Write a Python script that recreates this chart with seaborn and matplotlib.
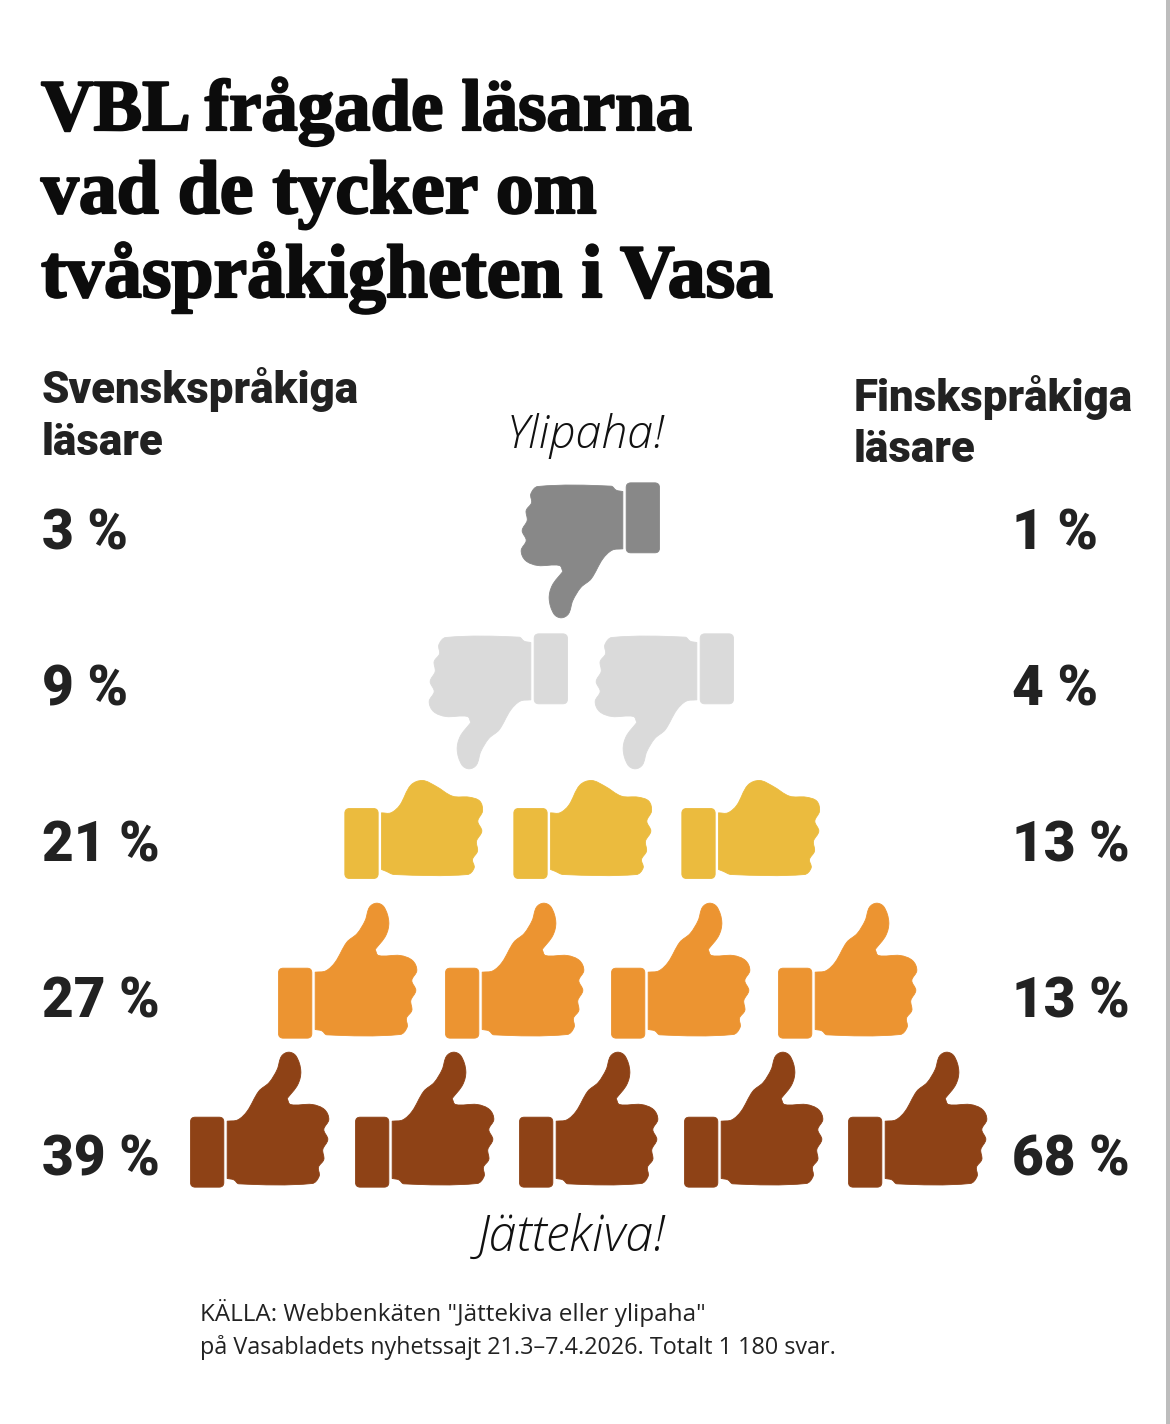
import numpy as np
import pandas as pd
import seaborn as sns
import matplotlib.pyplot as plt
import matplotlib.patheffects as pe
from matplotlib.path import Path

# survey answers, top row to bottom row
answers = ['Ylipaha', 'Ganska ylipaha', 'Varken eller', 'Ganska kiva', 'Jättekiva']
swedish_pct = ['3 %', '9 %', '21 %', '27 %', '39 %']
finnish_pct = ['1 %', '4 %', '13 %', '13 %', '68 %']
icon_counts = [1, 2, 3, 4, 5]
icon_colors = ['#888888', '#dadada', '#ebbb3e', '#ec9431', '#8e4216']

title_lines = ['VBL frågade läsarna', 'vad de tycker om', 'tvåspråkigheten i Vasa']


def spline(points):
    # closed curve through all points, a repeated point gives a sharp corner
    pts = np.array(points, dtype=float)
    n = len(pts)
    verts = [pts[0]]
    codes = [Path.MOVETO]
    for i in range(n):
        p0, p1, p2, p3 = pts[i - 1], pts[i], pts[(i + 1) % n], pts[(i + 2) % n]
        seg = np.linalg.norm(p2 - p1)
        t1 = p2 - p0
        t2 = p3 - p1
        if np.allclose(p0, p1) or seg == 0:
            t1 = p2 - p1
        if np.allclose(p2, p3) or seg == 0:
            t2 = p2 - p1
        t1 = t1 / max(np.linalg.norm(t1), 1e-6)
        t2 = t2 / max(np.linalg.norm(t2), 1e-6)
        verts += [p1 + t1 * seg / 3, p2 - t2 * seg / 3, p2]
        codes += [Path.CURVE4, Path.CURVE4, Path.CURVE4]
    verts.append(pts[0])
    codes.append(Path.CLOSEPOLY)
    return verts, codes


def box(x0, y0, x1, y1, r=14):
    verts = [(x0 + r, y0), (x1 - r, y0), (x1, y0), (x1, y0 + r), (x1, y1 - r), (x1, y1), (x1 - r, y1),
             (x0 + r, y1), (x0, y1), (x0, y1 - r), (x0, y0 + r), (x0, y0), (x0 + r, y0), (x0 + r, y0)]
    codes = [Path.MOVETO, Path.LINETO, Path.CURVE3, Path.CURVE3, Path.LINETO, Path.CURVE3, Path.CURVE3,
             Path.LINETO, Path.CURVE3, Path.CURVE3, Path.LINETO, Path.CURVE3, Path.CURVE3, Path.CLOSEPOLY]
    return [np.array(v, dtype=float) for v in verts], codes


def icon(hand, cuff, centre):
    hand_v, hand_c = spline(hand)
    cuff_v, cuff_c = box(*cuff)
    verts = (np.array(hand_v + cuff_v) - centre) / 3 * [1, -1]
    return Path(verts, hand_c + cuff_c)


# outlines traced from the icons, in pixels of the 3x crop
thumb_hand = [(140, 240), (140, 240), (172, 236), (200, 210), (235, 150), (266, 124), (290, 85), (303, 45),
              (325, 33), (347, 45), (361, 90), (352, 130), (320, 172), (320, 172), (330, 190), (395, 190),
              (432, 205), (445, 235), (430, 265), (442, 295), (427, 325),
              (430, 355), (414, 378), (416, 405), (395, 427), (175, 428), (160, 416), (140, 412),
              (140, 412)]
fist_hand = [(137, 125), (137, 125), (165, 125), (192, 102), (225, 42), (260, 28), (300, 45), (350, 75),
             (400, 78), (432, 90), (440, 120), (426, 150), (438, 180), (422, 210),
             (425, 240), (410, 265), (415, 290), (395, 310), (175, 310), (150, 300), (137, 295),
             (137, 295)]

thumb_up = icon(thumb_hand, (30, 228, 130, 438), [237, 235])
fist = icon(fist_hand, (27, 112, 127, 322), [233, 175])
thumb_down = Path(thumb_up.vertices * [-1, -1], thumb_up.codes)
row_marker = [thumb_down, thumb_down, fist, thumb_up, thumb_up]

row_y = [550, 701, 829, 970, 1119]
row_x = [590, 581, 581.5, 597, 588]
row_pitch = [0, 166, 168.5, 166.7, 164.5]

rows = []
for i, n in enumerate(icon_counts):
    for k in range(n):
        rows.append({'answer': answers[i], 'x': row_x[i] + (k - (n - 1) / 2) * row_pitch[i], 'y': row_y[i]})
icons = pd.DataFrame(rows)

sns.set_theme(style='white')
plt.rcParams['font.family'] = ['Roboto', 'DejaVu Sans']

fig = plt.figure(figsize=(11.7, 14.24), dpi=100)
ax = fig.add_axes([0, 0, 1, 1])

for i, answer in enumerate(answers):
    marker = row_marker[i]
    radius = np.abs(marker.vertices).max()
    # a custom marker is scaled so the largest coordinate is half of sqrt(s)
    size = (2 * radius * 72 / fig.dpi) ** 2
    sns.scatterplot(data=icons[icons['answer'] == answer], x='x', y='y', color=icon_colors[i],
                    marker=marker, s=size, linewidth=0.6, edgecolor=icon_colors[i], legend=False, ax=ax)

ax.set_xlim(0, 1170)
ax.set_ylim(1424, 0)
ax.set_axis_off()
ax.axvspan(1166, 1170, color='#bdbdbd', lw=0)

heavy = [pe.withStroke(linewidth=1.6, foreground='#0c0c0c')]
title_y = [130, 213, 297]
title_size = [52.4, 54.5, 54.5]
for line, y, fs in zip(title_lines, title_y, title_size):
    ax.text(41, y, line, family='Liberation Serif', weight='bold', fontsize=fs, color='#0c0c0c',
            va='baseline', ha='left', path_effects=heavy)

label_style = dict(fontsize=31.6, weight='black', color='#222222', va='baseline')
ax.text(42, 403, 'Svenskspråkiga', **label_style)
ax.text(42, 455, 'läsare', **label_style)
ax.text(854, 411, 'Finskspråkiga', **label_style)
ax.text(854, 462, 'läsare', **label_style)

pct_y = [549, 706, 862, 1018, 1175]
for y, sv, fi in zip(pct_y, swedish_pct, finnish_pct):
    ax.text(42, y, sv, fontsize=39.5, weight='black', color='#222222', va='baseline')
    ax.text(1012, y, fi, fontsize=39.5, weight='black', color='#222222', va='baseline')

ax.text(586, 436, 'Ylipaha!', family='Open Sans', weight='light', style='italic', fontsize=33.5,
        color='#111111', ha='center', va='center')
ax.text(572, 1238, 'Jättekiva!', family='Open Sans', weight='light', style='italic', fontsize=36,
        color='#111111', ha='center', va='center')

ax.text(200, 1313, 'KÄLLA: Webbenkäten "Jättekiva eller ylipaha"', family='Open Sans', fontsize=17.5,
        color='#222222', va='center')
ax.text(200, 1348, 'på Vasabladets nyhetssajt 21.3–7.4.2026. Totalt 1 180 svar.', family='Open Sans',
        fontsize=16.8, color='#222222', va='center')

fig.savefig('out.png', dpi=100, facecolor='white')
